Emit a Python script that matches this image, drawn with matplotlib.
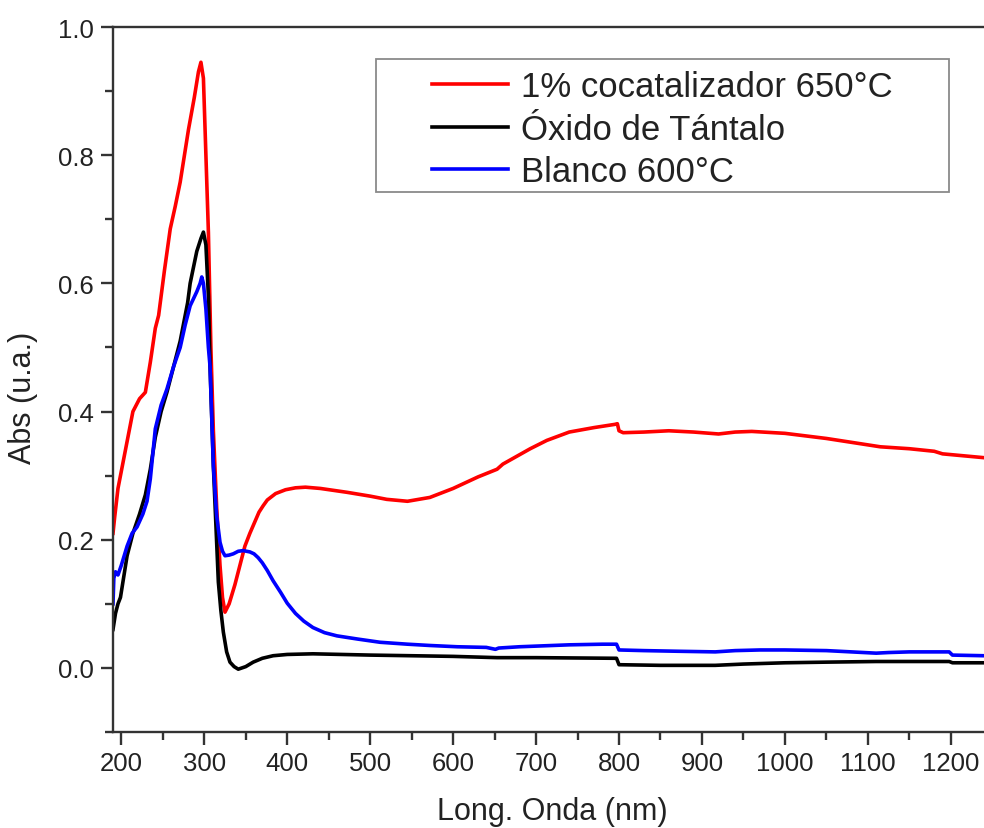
import matplotlib
matplotlib.use("Agg")
import matplotlib.pyplot as plt
from matplotlib.ticker import MultipleLocator
from matplotlib.patches import Rectangle

plt.rcParams['font.family'] = ['Liberation Sans', 'DejaVu Sans']

# ---- data (wavelength nm, absorbance) ----
red_x = [190, 192, 196, 202, 208, 214, 222, 229, 235, 241, 245, 252, 259, 265, 271, 281, 288, 293, 296,
         299, 302, 305, 308, 311, 315, 319, 322, 325, 330, 337, 343, 349, 355, 360, 366, 371, 376, 386,
         398, 410, 422, 440, 472, 500, 520, 545, 572, 600, 630, 653, 660, 693, 713, 740, 770, 795, 798,
         800, 805, 830, 860, 890, 920, 940, 960, 1000, 1050, 1080, 1110, 1115, 1150, 1180, 1190, 1215,
         1240]
red_y = [0.21, 0.235, 0.28, 0.32, 0.36, 0.40, 0.42, 0.43, 0.477, 0.53, 0.55, 0.62, 0.685, 0.72, 0.758,
         0.84, 0.89, 0.93, 0.945, 0.92, 0.80, 0.68, 0.50, 0.37, 0.25, 0.16, 0.11, 0.087, 0.10, 0.13,
         0.16, 0.19, 0.21, 0.225, 0.243, 0.253, 0.262, 0.272, 0.278, 0.281, 0.282, 0.28, 0.274, 0.268,
         0.263, 0.26, 0.266, 0.28, 0.298, 0.31, 0.318, 0.342, 0.355, 0.368, 0.375, 0.38, 0.381, 0.37,
         0.367, 0.368, 0.37, 0.368, 0.365, 0.368, 0.369, 0.366, 0.358, 0.352, 0.346, 0.345, 0.342,
         0.338, 0.334, 0.331, 0.328]

black_x = [190, 193, 196, 199, 207, 214, 222, 229, 235, 241, 248, 255, 263, 271, 280, 283, 291, 296,
           299, 302, 305, 307, 311, 317, 320, 323, 327, 331, 336, 341, 350, 359, 370, 383, 400, 431,
           500, 600, 653, 700, 797, 800, 850, 916, 950, 1000, 1050, 1110, 1198, 1202, 1240]
black_y = [0.06, 0.085, 0.10, 0.11, 0.175, 0.21, 0.24, 0.27, 0.31, 0.36, 0.40, 0.43, 0.47, 0.51, 0.57,
           0.60, 0.65, 0.67, 0.68, 0.66, 0.58, 0.47, 0.315, 0.134, 0.09, 0.056, 0.025, 0.009, 0.002,
           -0.002, 0.002, 0.009, 0.015, 0.019, 0.021, 0.022, 0.02, 0.018, 0.016, 0.016, 0.015, 0.005,
           0.004, 0.004, 0.006, 0.008, 0.009, 0.01, 0.01, 0.008, 0.008]

blue_x = [190, 191, 193, 196, 200, 207, 213, 219, 226, 231, 235, 241, 248, 255, 263, 271, 277, 283,
          291, 295, 297, 299, 302, 305, 307, 311, 315, 319, 322, 325, 330, 335, 341, 347, 355, 360,
          365, 370, 376, 383, 392, 400, 410, 420, 431, 445, 460, 485, 512, 545, 572, 605, 640, 651, 655,
          680, 700, 740, 780, 797, 800, 830, 870, 916, 940, 970, 1000, 1050, 1080, 1110, 1125, 1150,
          1198, 1202, 1240]
blue_y = [0.10, 0.14, 0.15, 0.145, 0.16, 0.19, 0.21, 0.22, 0.24, 0.26, 0.295, 0.373, 0.41, 0.435,
          0.47, 0.50, 0.535, 0.565, 0.587, 0.60, 0.61, 0.60, 0.56, 0.50, 0.47, 0.315, 0.237, 0.196,
          0.182, 0.175, 0.176, 0.178, 0.182, 0.183, 0.181, 0.178, 0.172, 0.164, 0.152, 0.136, 0.118,
          0.101, 0.085, 0.073, 0.063, 0.055, 0.05, 0.045, 0.04, 0.037, 0.035, 0.033, 0.032, 0.029,
          0.031, 0.033, 0.034, 0.036, 0.037, 0.037, 0.028, 0.027, 0.026, 0.025, 0.027, 0.028, 0.028,
          0.027, 0.025, 0.023, 0.024, 0.025, 0.025, 0.02, 0.019]

labels = ["1% cocatalizador 650°C", "Óxido de Tántalo", "Blanco 600°C"]
x_label = "Long. Onda (nm)"
y_label = "Abs (u.a.)"

# ---- figure ----
W, H = 984, 829
fig = plt.figure(figsize=(W / 100, H / 100), dpi=100)
L, R, B, T = 113, 984, 733, 28
ax = fig.add_axes([L / W, 1 - B / H, (R - L) / W, (B - T) / H])

lw = 2.6
ax.plot(red_x, red_y, color='#ff0000', lw=lw, label=labels[0])
ax.plot(black_x, black_y, color='#000000', lw=lw, label=labels[1])
ax.plot(blue_x, blue_y, color='#0000ff', lw=lw, label=labels[2])

ax.set_xlim(190, 1240)
ax.set_ylim(-0.1, 1.0)
ax.xaxis.set_minor_locator(MultipleLocator(50))
ax.yaxis.set_minor_locator(MultipleLocator(0.1))
ax.set_yticks([0.0, 0.2, 0.4, 0.6, 0.8, 1.0])
ax.set_yticklabels(["0.0", "0.2", "0.4", "0.6", "0.8", "1.0"])
ax.set_xticks(list(range(200, 1201, 100)))

for s in ['left', 'bottom', 'top']:
    ax.spines[s].set_linewidth(1.7)
    ax.spines[s].set_color('#333333')
ax.spines['right'].set_visible(False)

ax.tick_params(which='major', direction='out', length=9, width=1.7, labelsize=18.5,
               colors='#333333', labelcolor='#222222', pad=5)
ax.tick_params(which='minor', direction='out', length=5.5, width=1.7, colors='#333333')
ax.tick_params(top=False, right=False, which='both')

ax.set_xlabel(x_label, fontsize=22, color='#222222')
ax.set_ylabel(y_label, fontsize=22, color='#222222')
ax.xaxis.set_label_coords((552.5 - L) / (R - L), (B - 797) / (B - T))
ax.yaxis.set_label_coords((38 - L) / (R - L), (B - 398) / (B - T))

# legend frame
fx0, fx1, fy0, fy1 = 376, 949, 60, 193
ax.add_patch(Rectangle(((fx0 - L) / (R - L), (B - fy1) / (B - T)), (fx1 - fx0) / (R - L),
                       (fy1 - fy0) / (B - T), transform=ax.transAxes, fill=True,
                       facecolor='white', edgecolor='#8a8a8a', lw=1.3, zorder=5))
leg = ax.legend(loc='upper left', bbox_to_anchor=((432 - L) / (R - L), (B - 71) / (B - T)),
                frameon=False, fontsize=25, borderpad=0, borderaxespad=0,
                handlelength=2.2, handletextpad=0.35, labelspacing=0.28)
leg.set_zorder(6)
for t in leg.get_texts():
    t.set_color('#222222')

fig.savefig("out.png", dpi=100)
